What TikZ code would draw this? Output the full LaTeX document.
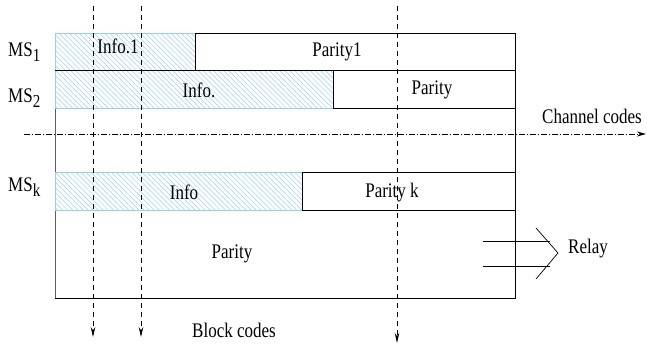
\documentclass[tikz,border=0pt]{standalone}
\usepackage{fontspec}
\setmainfont{Liberation Serif}
\usetikzlibrary{arrows.meta, patterns.meta, positioning}
\definecolor{hatchblue}{RGB}{150,208,240}
\definecolor{framegray}{RGB}{95,95,95}
\newcommand{\msidx}[1]{\raisebox{-0.5ex}{\fontsize{15}{16}\selectfont #1}}
\newcommand{\tallt}[1]{\scalebox{1}[1.22]{#1}}

\tikzset{
  info/.style={draw=hatchblue, line width=0.9pt,
    pattern={Lines[angle=-45, distance=3.6pt, line width=0.5pt]}, pattern color=hatchblue},
  parity/.style={draw=black, line width=0.9pt},
  lbl/.style={font=\fontsize{17}{20}\selectfont, inner sep=0pt},
  blockline/.style={dashed, dash pattern=on 5pt off 4pt, line width=0.8pt,
    -{Stealth[length=10pt, width=4.5pt]}},
  chanline/.style={dash pattern=on 6pt off 2pt on 1pt off 2pt, line width=0.8pt,
    -{Stealth[length=9pt, width=5pt]}}
}

\begin{document}
\begin{tikzpicture}[x=1pt, y=-1pt]
  \useasboundingbox (0,0) rectangle (647,346);

  % frame
  \draw[framegray, line width=0.9pt] (55,108) -- (55,172) (55,210) -- (55,298);
  \draw[line width=0.9pt] (55,298) -- (515,298) -- (515,33);

  % rows
  \draw[info] (55,33) rectangle (195,70);
  \draw[parity] (195,33) rectangle (515,70);
  \draw[info] (55,70) rectangle (333,108);
  \draw[parity] (333,70) rectangle (515,108);
  \draw[parity] (55,70) -- (333,70);
  \draw[info] (55,172) rectangle (302,210);
  \draw[parity] (302,172) rectangle (515,210);

  \node[lbl] (info1) at (118,46) {\tallt{Info.1}};
  \node[lbl] (parity1) at (337,52) {\tallt{Parity1}};
  \node[lbl] (info2) at (199,90) {\tallt{Info.}};
  \node[lbl] (parity2) at (432,90) {\tallt{Parity}};
  \node[lbl] (infok) at (184,192) {\tallt{Info}};
  \node[lbl] (parityk) at (392,193) {\tallt{Parity k}};
  \node[lbl] (parity) at (232,254) {\tallt{Parity}};

  \node[lbl, anchor=west] (ms1) at (8,52) {\tallt{MS\msidx{1}}};
  \node[lbl, anchor=west] (ms2) at (8,98) {\tallt{MS\msidx{2}}};
  \node[lbl, anchor=west] (msk) at (8,187) {\tallt{MS\msidx{k}}};

  % block codes
  \coordinate (b1top) at (93,6);
  \coordinate (b1end) at (93,337);
  \coordinate (b2top) at (141,6);
  \coordinate (b2end) at (141,337);
  \coordinate (b3top) at (397,6);
  \coordinate (b3end) at (397,343);
  \draw[blockline] (b1top) -- (b1end);
  \draw[blockline] (b2top) -- (b2end);
  \draw[blockline] (b3top) -- (b3end);
  \node[lbl] (block) at (234,330) {\tallt{Block codes}};

  % channel codes
  \coordinate (chstart) at (24,134);
  \coordinate (chend) at (646,134);
  \draw[chanline] (chstart) -- (chend);
  \node[lbl] (channel) at (592,116) {\tallt{Channel codes}};

  % relay
  \draw[line width=0.7pt] (483,241) -- (550,241) (483,266) -- (550,266);
  \draw[line width=0.7pt] (536,228) -- (558,253) -- (536,279);
  \node[lbl, anchor=west] (relay) at (568,249) {\tallt{Relay}};
\end{tikzpicture}
\end{document}
